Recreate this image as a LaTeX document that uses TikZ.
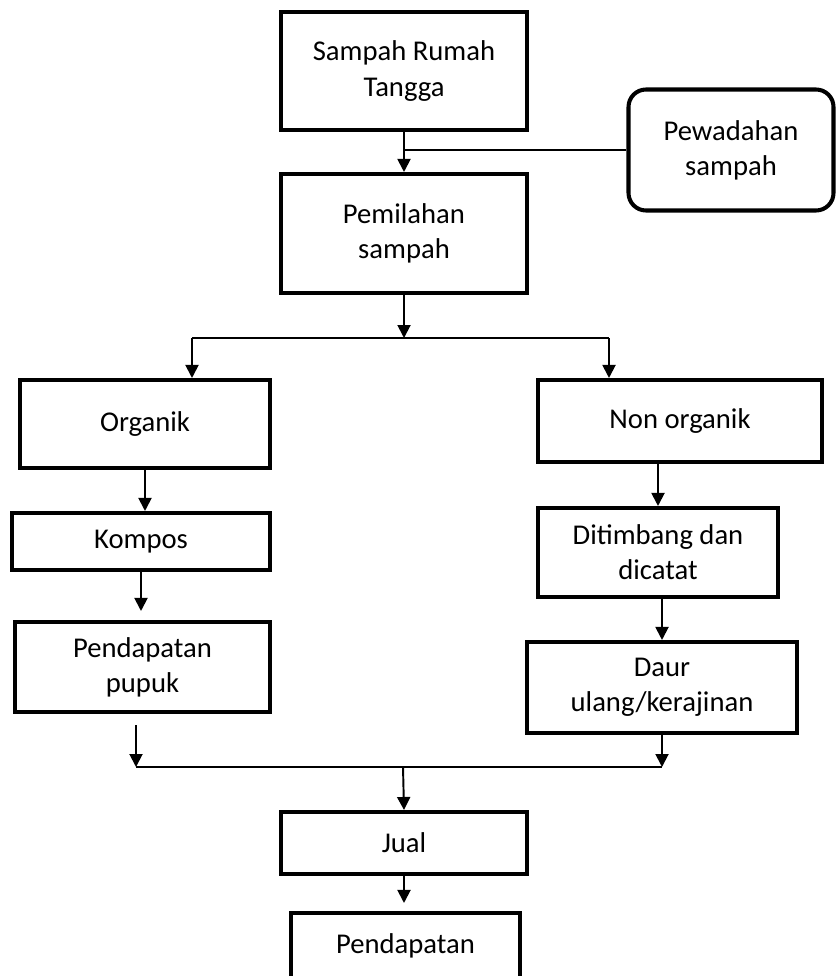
\documentclass[tikz,border=0pt]{standalone}
\usepackage{fontspec}
\setmainfont{Carlito}
\usepackage{tikz}
\usetikzlibrary{arrows.meta}
\tikzstyle{every node}=[font=\fontsize{16.3}{20}\selectfont]
\tikzstyle{box}=[draw,line width=2.3pt,inner sep=0pt,align=center]
\tikzstyle{rbox}=[box,rounded corners=0.35cm]
\tikzstyle{line}=[line width=1.1pt]
\tikzstyle{arr}=[line,-{Triangle[width=0.26cm,length=0.26cm]}]

\begin{document}
\begin{tikzpicture}
\clip (0,0) rectangle (16.72,-19.52);
\useasboundingbox (0,0) rectangle (16.72,-19.52);
\node[box,minimum width=4.92cm,minimum height=2.36cm]	(rumah)		at (8.08,-1.42)		{Sampah Rumah\\Tangga};
\node[rbox,minimum width=4.1cm,minimum height=2.42cm]	(wadah)		at (14.62,-3.0)		{Pewadahan\\sampah};
\node[box,minimum width=4.92cm,minimum height=2.38cm]	(pilah)		at (8.08,-4.67)		{Pemilahan\\sampah};
\node[box,minimum width=5.0cm,minimum height=1.76cm]	(organik)	at (2.9,-8.48)		{Organik};
\node[box,minimum width=5.68cm,minimum height=1.64cm]	(nonorg)	at (13.6,-8.42)		{Non organik};
\node[box,minimum width=5.16cm,minimum height=1.14cm]	(kompos)	at (2.82,-10.83)	{Kompos};
\node[box,minimum width=5.1cm,minimum height=1.8cm]		(pupuk)		at (2.85,-13.34)	{Pendapatan\\pupuk};
\node[box,minimum width=4.8cm,minimum height=1.78cm]	(timbang)	at (13.16,-11.05)	{Ditimbang dan\\dicatat};
\node[box,minimum width=5.4cm,minimum height=1.82cm]	(daur)		at (13.24,-13.75)	{Daur\\ulang/kerajinan};
\node[box,minimum width=4.92cm,minimum height=1.24cm]	(jual)		at (8.08,-16.86)	{Jual};
\node[box,minimum width=4.58cm,minimum height=1.3cm]	(dapat)		at (8.11,-18.91)	{Pendapatan};

% titik cabang
\coordinate (pisah)		at (8.08,-6.76);
\coordinate (kiri)		at (3.84,-6.76);
\coordinate (kanan)		at (12.18,-6.76);
\coordinate (gabkiri)	at (2.72,-15.34);
\coordinate (gabkanan)	at (13.24,-15.34);
\coordinate (gabung)	at (8.06,-15.34);

\draw[arr]	(rumah.south) -- (pilah.north);
\draw[line]	(wadah.west) -- (wadah.west -| rumah.south);
\draw[arr]	(pilah.south) -- (pisah);
\draw[line]	(kiri) -- (kanan);
\draw[arr]	(kiri) -- (kiri |- organik.north);
\draw[arr]	(kanan) -- (kanan |- nonorg.north);
\draw[arr]	(organik.south) -- (organik.south |- kompos.north);
\draw[arr,shorten >=0.18cm]	(kompos.south) -- (kompos.south |- pupuk.north);
\draw[arr,shorten <=0.22cm]	(gabkiri |- pupuk.south) -- (gabkiri);
\draw[arr]	(timbang.north |- nonorg.south) -- (timbang.north);
\draw[arr]	(daur.north |- timbang.south) -- (daur.north);
\draw[arr]	(daur.south) -- (gabkanan);
\draw[line]	(gabkiri) -- (gabkanan);
\draw[arr]	(gabung) -- (jual.north);
\draw[arr,shorten >=0.16cm]	(jual.south) -- (jual.south |- dapat.north);
\end{tikzpicture}
\end{document}
